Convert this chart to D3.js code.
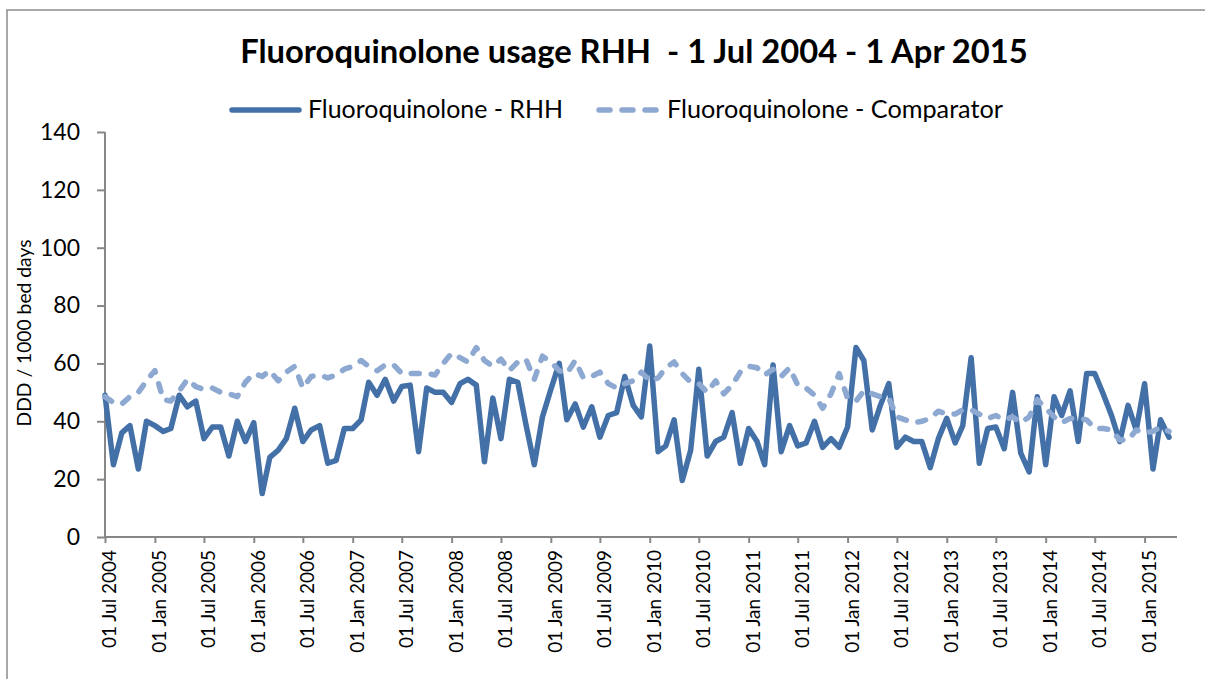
<!DOCTYPE html>
<html><head><meta charset="utf-8">
<script src="https://cdn.jsdelivr.net/npm/d3@7"></script>
<style>body{margin:0;background:#fff} text{font-family:Lato,"Open Sans",sans-serif;fill:#000}</style>
</head><body><svg id="c" width="1205" height="679"></svg>
<script>
const titleText = "Fluoroquinolone usage RHH  - 1 Jul 2004 - 1 Apr 2015";
const yTitle = "DDD / 1000 bed days";
const seriesNames = ["Fluoroquinolone - RHH", "Fluoroquinolone - Comparator"];
const firstMonth = "01 Jul 2004";
const lastMonth = "01 Apr 2015";
const rhh = [49,25,36,38.5,23.5,40,38.5,36.5,37.5,49,45,47,34,38,38,28,40,33,39.5,15,
  27.5,30,34,44.5,33,37,38.5,25.5,26.5,37.5,37.5,40.5,53.5,49,54.5,47,52,52.5,29.5,51.5,
  50,50,46.5,53,54.5,52.5,26,48,34,54.5,53.5,39,25,41.5,51,60,40.5,46,38,45,
  34.5,42,43,55.5,45.5,41.5,66,29.5,31.5,40.5,19.5,30,58,28,33,34.5,43,25.5,37.5,33,
  25,59.5,29.5,38.5,31.5,32.5,40,31,34,31,38,65.5,61,37,45.5,53,31,34.5,33,33,
  24,34,41,32.5,38.5,62,25.5,37.5,38,30.5,50,29,22.5,48.5,25,48.5,42,50.5,33,56.5,
  56.5,49.5,42,33,45.5,37,53,23.5,40.5,34.5];
const comparator = [48.5,46.5,46,48.5,50,54,57.5,47.5,47,50.5,54.5,52,51,51.5,50,49.5,48.5,53.5,56.5,55.5,
  57.5,54,57,59,51.5,55.5,56,55,56,58,59,61,59,57.5,59.5,59.5,56.5,56.5,56.5,56.5,
  56,60,63.5,62,60.5,65.5,61,59,61.5,57.5,60.5,61.5,54.5,62.5,60.5,57.5,56.5,61,55,55.5,
  57,53,51.5,53,54,57,54,55,58.5,60.5,56.5,53.5,53,50,54,49.5,52.5,57,59,58.5,
  56,58,55.5,58.5,52.5,51.5,49,44.5,49.5,56.5,48,47,50.5,49.5,48.5,48,41.5,40.5,39.5,40,
  41,43.5,42.5,42.5,44,44,42.5,41,42,40.5,41.5,39.5,41.5,47.5,44.5,41.5,39.5,41,41,40.5,
  37.5,37.5,37,33.5,33.5,37,36,36.5,38,36.5];
const tickLabels = ["01 Jul 2004","01 Jan 2005","01 Jul 2005","01 Jan 2006","01 Jul 2006","01 Jan 2007",
  "01 Jul 2007","01 Jan 2008","01 Jul 2008","01 Jan 2009","01 Jul 2009","01 Jan 2010","01 Jul 2010",
  "01 Jan 2011","01 Jul 2011","01 Jan 2012","01 Jul 2012","01 Jan 2013","01 Jul 2013","01 Jan 2014",
  "01 Jul 2014","01 Jan 2015"];
const yTicks = [0,20,40,60,80,100,120,140];

const parse = d3.utcParse("%d %b %Y");
const fmt = d3.utcFormat("%d %b %Y");
const start = parse(firstMonth);
const dates = rhh.map((_, i) => d3.utcMonth.offset(start, i));

const svg = d3.select("#c");
const colSolid = "#4470a8", colDash = "#8ea9d1", axisCol = "#878787";
const lw = 5.5;

function fit(sel, w) {
  const cur = sel.node().getComputedTextLength();
  sel.attr("font-size", parseFloat(sel.attr("font-size")) * w / cur);
  return sel;
}

// outer chart border
svg.append("path").attr("d", "M7,679 V10 H1205").attr("fill", "none")
  .attr("stroke", "#8c8c8c").attr("stroke-width", 1.5);

const x = d3.scaleUtc().domain([start, parse(lastMonth)]).range([105, 1169]);
const y = d3.scaleLinear().domain([0, 140]).range([537, 132]);

// title
fit(svg.append("text").attr("x", 634).attr("y", 63).attr("text-anchor", "middle")
  .attr("font-size", 30).attr("font-weight", "bold").style("white-space", "pre").text(titleText), 788);

// axes
const gx = svg.append("g").attr("transform", "translate(0,537)")
  .call(d3.axisBottom(x).tickValues(tickLabels.map(parse)).tickFormat(fmt).tickSize(6).tickPadding(0));
gx.select(".domain").remove();
gx.append("line").attr("x1", 105).attr("x2", 1177).attr("stroke", axisCol).attr("stroke-width", 2);
gx.selectAll(".tick line").attr("stroke", axisCol).attr("stroke-width", 2);
const xt = gx.selectAll(".tick text").attr("font-size", 19)
  .attr("text-anchor", "end").attr("transform", "translate(4,13) rotate(-90)").attr("x", 0).attr("y", 0).attr("dy", "0.35em");
const fsX = 19 * 98 / xt.node().getComputedTextLength();
xt.attr("font-size", fsX);

const gy = svg.append("g").attr("transform", "translate(105,0)")
  .call(d3.axisLeft(y).tickValues(yTicks).tickSize(8).tickPadding(17));
gy.select(".domain").attr("stroke", axisCol).attr("stroke-width", 2).attr("d", "M0,132V538");
gy.selectAll(".tick line").attr("stroke", axisCol).attr("stroke-width", 2);
const yt = gy.selectAll(".tick text").attr("font-size", 24);
const topLabel = yt.filter(d => d === 140);
const fsY = 24 * 40 / topLabel.node().getComputedTextLength();
yt.attr("font-size", fsY);

fit(svg.append("text").attr("transform", "translate(31,333) rotate(-90)").attr("text-anchor", "middle")
  .attr("font-size", 17).text(yTitle), 187);

// lines
const line = d3.line().x((d, i) => x(dates[i])).y(d => y(d));
svg.append("path").datum(rhh).attr("d", line).attr("fill", "none").attr("stroke", colSolid)
  .attr("stroke-width", lw).attr("stroke-linejoin", "round").attr("stroke-linecap", "round");
svg.append("path").datum(comparator).attr("d", line).attr("fill", "none").attr("stroke", colDash)
  .attr("stroke-width", lw).attr("stroke-linejoin", "round").attr("stroke-linecap", "round")
  .attr("stroke-dasharray", "8,12");

// legend
const lg = svg.append("g");
lg.append("line").attr("x1", 232).attr("x2", 299).attr("y1", 110).attr("y2", 110)
  .attr("stroke", colSolid).attr("stroke-width", lw).attr("stroke-linecap", "round");
fit(lg.append("text").attr("x", 308).attr("y", 118).attr("font-size", 22).text(seriesNames[0]), 255);
lg.append("line").attr("x1", 599).attr("x2", 656).attr("y1", 110).attr("y2", 110)
  .attr("stroke", colDash).attr("stroke-width", lw).attr("stroke-linecap", "round").attr("stroke-dasharray", "11,12");
fit(lg.append("text").attr("x", 667).attr("y", 118).attr("font-size", 22).text(seriesNames[1]), 336);
</script></body></html>
